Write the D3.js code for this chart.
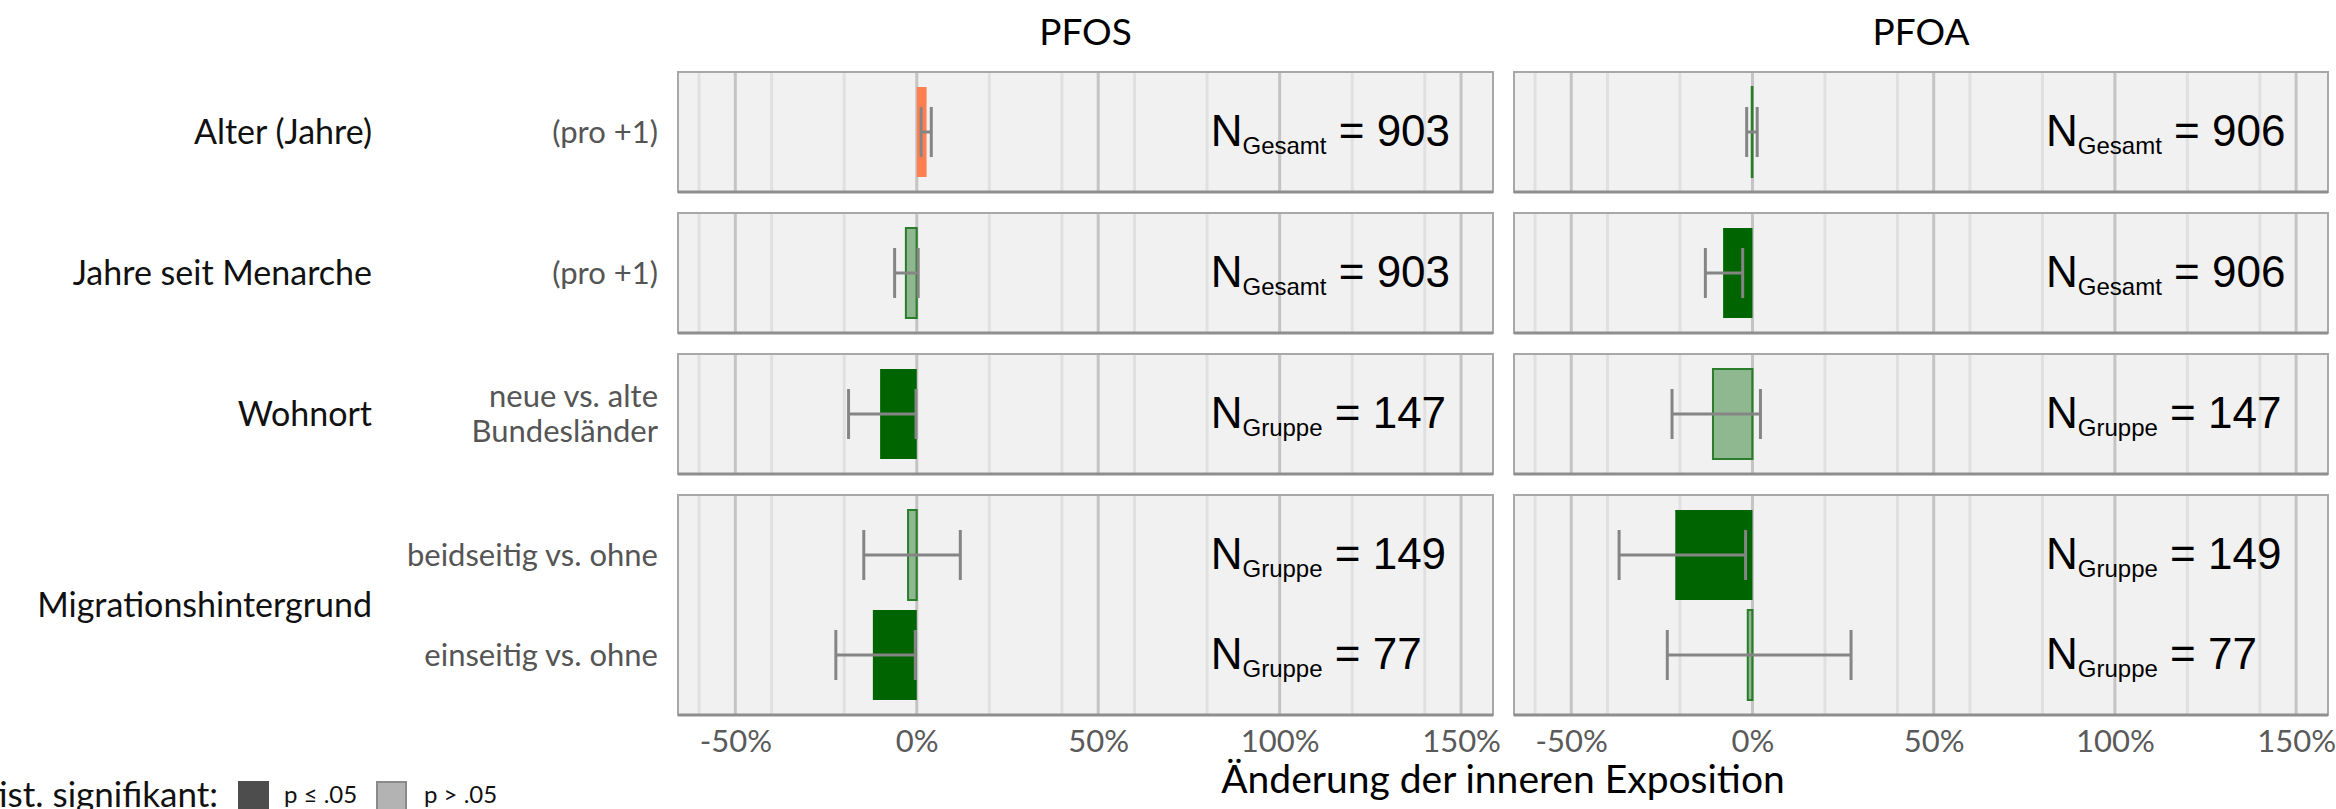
<!DOCTYPE html>
<html>
<head>
<meta charset="utf-8">
<script src="https://cdn.jsdelivr.net/npm/d3@7"></script>
<style>
  body { margin: 0; background: #fff; }
  svg text { font-family: Lato, "Open Sans", sans-serif; }
  .nlab { font-family: "Liberation Sans", Arial, sans-serif !important; }
</style>
</head>
<body>
<div id="chart"></div>
<script>
// Chart data
const substances = ["PFOS", "PFOA"];
const groups = ["Alter (Jahre)", "Jahre seit Menarche", "Wohnort", "Migrationshintergrund"];
const rowGroup = [0, 1, 2, 3, 3];
const rowLabels = ["(pro +1)", "(pro +1)", "neue vs. alte|Bundesländer", "beidseitig vs. ohne", "einseitig vs. ohne"];
const nType = ["Gesamt", "Gesamt", "Gruppe", "Gruppe", "Gruppe"];

const pfosEst = [2.7, -3.0, -10.1, -2.4, -12.1];
const pfosLo = [1.2, -6.1, -18.8, -14.6, -22.3];
const pfosHi = [4.0, 0.4, -0.2, 12.0, -0.4];
const pfosSig = [true, false, true, false, true];
const pfosN = [903, 903, 147, 149, 77];

const pfoaEst = [-0.2, -8.1, -10.9, -21.3, -1.3];
const pfoaLo = [-1.6, -13.0, -22.2, -36.8, -23.5];
const pfoaHi = [1.3, -2.7, 2.2, -1.9, 27.2];
const pfoaSig = [false, true, false, true, false];
const pfoaN = [906, 906, 147, 149, 77];

const tickValues = [-50, 0, 50, 100, 150];
const gridValues = [-60, -40, -20, 20, 40, 60, 80, 120, 140];
const xDomain = [-65.8, 158.8];

function buildRows(est, lo, hi, sig, n) {
  return est.map((d, i) => ({
    group: rowGroup[i], label: rowLabels[i], est: d, lo: lo[i], hi: hi[i],
    sig: sig[i], n: n[i], type: nType[i]
  }));
}

function createChart() {
  const width = 2336, height = 809;
  const svg = d3.select("#chart").append("svg")
    .attr("width", width)
    .attr("height", height);

  // facet columns (x ranges)
  const facets = [
    {name: substances[0], rows: buildRows(pfosEst, pfosLo, pfosHi, pfosSig, pfosN), x: d3.scaleLinear().domain(xDomain).range([678, 1493])},
    {name: substances[1], rows: buildRows(pfoaEst, pfoaLo, pfoaHi, pfoaSig, pfoaN), x: d3.scaleLinear().domain(xDomain).range([1514, 2328])}
  ];

  // facet rows: height proportional to number of rows (+0.6 expansion each side)
  const unit = 100, gap = 21;
  let top = 72;
  const panels = groups.map((g, gi) => {
    const idx = rowGroup.map((r, i) => r === gi ? i : -1).filter(i => i >= 0);
    const h = (idx.length + 0.2) * unit;
    const y = d3.scaleLinear().domain([-0.6, idx.length - 0.4]).range([top, top + h]);
    const p = {name: g, idx, top, bottom: top + h, y};
    top += h + gap;
    return p;
  });
  const rowY = i => {
    const p = panels[rowGroup[i]];
    return p.y(p.idx.indexOf(i));
  };

  // row labels (group + contrast)
  panels.forEach(p => {
    svg.append("text")
      .attr("x", 372)
      .attr("y", (p.top + p.bottom) / 2)
      .attr("dy", "0.35em")
      .attr("text-anchor", "end")
      .attr("font-size", 34)
      .attr("fill", "#111")
      .text(p.name);
  });
  rowLabels.forEach((lab, i) => {
    const lines = lab.split("|");
    const cy = rowY(i);
    lines.forEach((l, j) => {
      svg.append("text")
        .attr("x", 658)
        .attr("y", cy + (j - (lines.length - 1) / 2) * 35)
        .attr("dy", "0.35em")
        .attr("text-anchor", "end")
        .attr("font-size", 31)
        .attr("fill", "#555")
        .text(l);
    });
  });

  facets.forEach(f => {
    const x = f.x;
    const g = svg.append("g");

    // title
    g.append("text")
      .attr("x", (x.range()[0] + x.range()[1]) / 2)
      .attr("y", 45)
      .attr("text-anchor", "middle")
      .attr("font-size", 37)
      .attr("fill", "#000")
      .text(f.name);

    panels.forEach((p, pi) => {
      const pg = g.append("g");
      pg.append("rect")
        .attr("x", x.range()[0]).attr("y", p.top)
        .attr("width", x.range()[1] - x.range()[0])
        .attr("height", p.bottom - p.top)
        .attr("fill", "#f1f1f1");

      // gridlines
      pg.selectAll(".minor").data(gridValues).join("line")
        .attr("x1", d => x(d)).attr("x2", d => x(d))
        .attr("y1", p.top).attr("y2", p.bottom)
        .attr("stroke", "#e0e0e0").attr("stroke-width", 3);
      pg.selectAll(".major").data(tickValues).join("line")
        .attr("x1", d => x(d)).attr("x2", d => x(d))
        .attr("y1", p.top).attr("y2", p.bottom)
        .attr("stroke", "#c4c4c4").attr("stroke-width", 3);

      const rows = f.rows.filter(r => r.group === pi);
      rows.forEach(r => {
        const i = f.rows.indexOf(r);
        const cy = rowY(i);
        const base = r.est > 0 ? "#ff7f50" : "#006400";
        // bar
        pg.append("rect")
          .attr("x", Math.min(x(0), x(r.est)))
          .attr("y", cy - 0.45 * unit)
          .attr("width", Math.abs(x(r.est) - x(0)))
          .attr("height", 0.9 * unit)
          .attr("fill", base)
          .attr("fill-opacity", r.sig ? 1 : 0.4)
          .attr("stroke", r.sig ? "none" : (r.est > 0 ? "#ff7f50" : "#2a7d2a"))
          .attr("stroke-width", 2);
        // error bar
        pg.append("line")
          .attr("x1", x(r.lo)).attr("x2", x(r.hi))
          .attr("y1", cy).attr("y2", cy)
          .attr("stroke", "#858585").attr("stroke-width", 3);
        [r.lo, r.hi].forEach(v => {
          pg.append("line")
            .attr("x1", x(v)).attr("x2", x(v))
            .attr("y1", cy - 0.25 * unit).attr("y2", cy + 0.25 * unit)
            .attr("stroke", "#858585").attr("stroke-width", 3);
        });
        // N label
        const t = pg.append("text")
          .attr("class", "nlab")
          .attr("x", x(81))
          .attr("y", cy + 14)
          .attr("font-size", 44)
          .attr("fill", "#000");
        t.append("tspan").text("N");
        t.append("tspan").attr("font-size", 24).attr("dy", 8).text(r.type);
        t.append("tspan").attr("dy", -8).text(" = " + r.n);
      });

      // panel border
      pg.append("rect")
        .attr("x", x.range()[0]).attr("y", p.top)
        .attr("width", x.range()[1] - x.range()[0])
        .attr("height", p.bottom - p.top)
        .attr("fill", "none")
        .attr("stroke", "#a8a8a8").attr("stroke-width", 2);
      pg.append("line")
        .attr("x1", x.range()[0]).attr("x2", x.range()[1])
        .attr("y1", p.bottom).attr("y2", p.bottom)
        .attr("stroke", "#8e8e8e").attr("stroke-width", 3);
    });

    // x axis under the last panel
    const last = panels[panels.length - 1];
    const axis = g.append("g")
      .attr("transform", `translate(0,${last.bottom})`)
      .call(d3.axisBottom(x).tickValues(tickValues).tickFormat(d => d + "%").tickSize(0).tickPadding(15));
    axis.select(".domain").remove();
    axis.selectAll("text")
      .attr("font-size", 31)
      .attr("fill", "#5a5a5a")
      .style("font-family", "Lato, sans-serif");
  });

  // x axis title
  svg.append("text")
    .attr("x", 1503)
    .attr("y", 793)
    .attr("text-anchor", "middle")
    .attr("font-size", 39)
    .attr("fill", "#000")
    .text("Änderung der inneren Exposition");

  // legend
  const leg = svg.append("g");
  leg.append("text")
    .attr("x", 218).attr("y", 795)
    .attr("dy", "0.35em")
    .attr("text-anchor", "end")
    .attr("font-size", 35)
    .attr("fill", "#111")
    .text("Statist. signifikant:");
  leg.append("rect").attr("x", 238).attr("y", 781).attr("width", 31).attr("height", 31)
    .attr("fill", "#4d4d4d");
  leg.append("text").attr("x", 284).attr("y", 795).attr("dy", "0.35em")
    .attr("font-size", 24).attr("fill", "#111").text("p ≤ .05");
  leg.append("rect").attr("x", 377).attr("y", 782).attr("width", 29).attr("height", 29)
    .attr("fill", "#b3b3b3").attr("stroke", "#8a8a8a").attr("stroke-width", 2);
  leg.append("text").attr("x", 424).attr("y", 795).attr("dy", "0.35em")
    .attr("font-size", 24).attr("fill", "#111").text("p > .05");

  return svg;
}

window.addEventListener('load', () => {
  createChart();
});
</script>
</body>
</html>
